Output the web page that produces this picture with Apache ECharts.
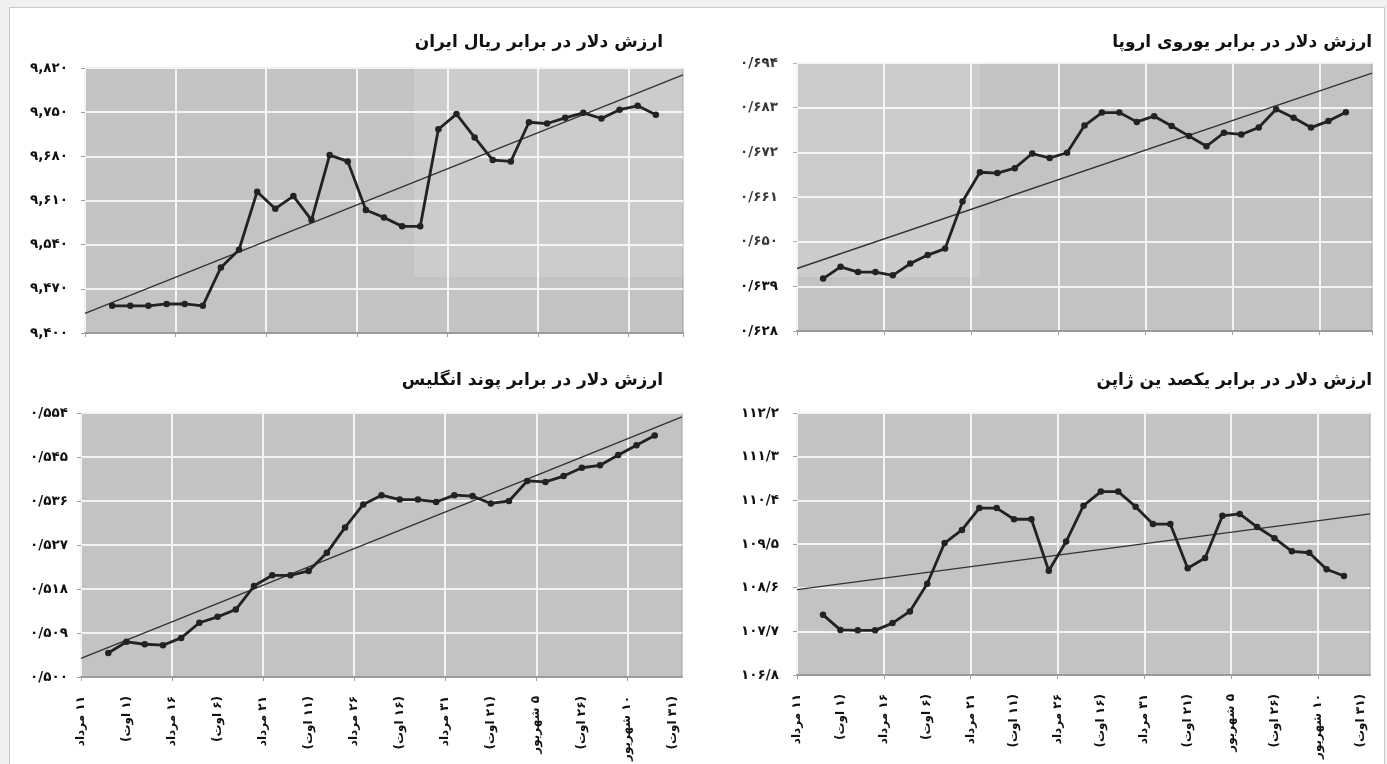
<!DOCTYPE html>
<html><head><meta charset="utf-8">
<script src="https://cdn.jsdelivr.net/npm/echarts@6/dist/echarts.min.js"></script>
<style>
html,body{margin:0;padding:0;background:#eff0f2;width:1387px;height:764px;overflow:hidden;}
#frame{position:absolute;left:9px;top:7px;width:1374px;height:800px;background:#fff;border:1px solid #c9cacc;}
#chart{position:absolute;left:0;top:0;width:1387px;height:764px;}
</style></head><body>
<div id="frame"></div>
<div id="chart"></div>
<script>
// ---- data ----
const daySlots = 33;                       // day slots on the x axis (11 Mordad .. )
const dayCats = Array.from({ length: daySlots }, (_, i) => String(i));
const xTickDays = [0, 5, 10, 15, 20, 25, 30];
const xLabelsFa = ['۱۱ مرداد', '۱۶ مرداد', '۲۱ مرداد', '۲۶ مرداد', '۳۱ مرداد', '۵ شهریور', '۱۰ شهریور'];
const xLabelsEn = ['(۱ اوت)', '(۶ اوت)', '(۱۱ اوت)', '(۱۶ اوت)', '(۲۱ اوت)', '(۲۶ اوت)', '(۳۱ اوت)'];

const titleIRR = 'ارزش دلار در برابر ریال ایران';
const titleEUR = 'ارزش دلار در برابر یوروی اروپا';
const titleGBP = 'ارزش دلار در برابر پوند انگلیس';
const titleJPY = 'ارزش دلار در برابر یکصد ین ژاپن';

const irr = [9443, 9443, 9443, 9446, 9446, 9443, 9504, 9532, 9624, 9597, 9617, 9579, 9682, 9672, 9595, 9583, 9569, 9569, 9723, 9747, 9710, 9674, 9672, 9734, 9732, 9741, 9749, 9740, 9754, 9760, 9746];
const eur = [0.6409, 0.6438, 0.6425, 0.6425, 0.6417, 0.6446, 0.6467, 0.6483, 0.6599, 0.6671, 0.6669, 0.6681, 0.6717, 0.6706, 0.6719, 0.6786, 0.6818, 0.6818, 0.6795, 0.6809, 0.6785, 0.6760, 0.6735, 0.6768, 0.6764, 0.6781, 0.6826, 0.6805, 0.6781, 0.6797, 0.6819];
const gbp = [0.5049, 0.5072, 0.5067, 0.5065, 0.5080, 0.5111, 0.5123, 0.5138, 0.5186, 0.5208, 0.5208, 0.5217, 0.5254, 0.5306, 0.5353, 0.5372, 0.5363, 0.5363, 0.5358, 0.5372, 0.5370, 0.5355, 0.5360, 0.5401, 0.5399, 0.5411, 0.5428, 0.5433, 0.5454, 0.5474, 0.5494];
const jpy = [108.04, 107.73, 107.72, 107.72, 107.87, 108.11, 108.68, 109.52, 109.79, 110.24, 110.24, 110.01, 110.01, 108.95, 109.55, 110.29, 110.58, 110.58, 110.27, 109.91, 109.91, 109.00, 109.21, 110.08, 110.12, 109.85, 109.62, 109.35, 109.32, 108.98, 108.84];

const trendIRR = [9431, 9809];
const trendEUR = [0.6434, 0.6915];
const trendGBP = [0.5038, 0.5532];
const trendJPY = [108.56, 110.12];

const yTicksIRR = ['۹,۴۰۰', '۹,۴۷۰', '۹,۵۴۰', '۹,۶۱۰', '۹,۶۸۰', '۹,۷۵۰', '۹,۸۲۰'];
const yTicksEUR = ['۰/۶۲۸', '۰/۶۳۹', '۰/۶۵۰', '۰/۶۶۱', '۰/۶۷۲', '۰/۶۸۳', '۰/۶۹۴'];
const yTicksGBP = ['۰/۵۰۰', '۰/۵۰۹', '۰/۵۱۸', '۰/۵۲۷', '۰/۵۳۶', '۰/۵۴۵', '۰/۵۵۴'];
const yTicksJPY = ['۱۰۶/۸', '۱۰۷/۷', '۱۰۸/۶', '۱۰۹/۵', '۱۱۰/۴', '۱۱۱/۳', '۱۱۲/۲'];

const yMinIRR = 9400, yStepIRR = 70;
const yMinEUR = 0.628, yStepEUR = 0.011;
const yMinGBP = 0.500, yStepGBP = 0.009;
const yMinJPY = 106.8, yStepJPY = 0.9;

// ---- layout / style ----
const FONT = '"DejaVu Sans", sans-serif';
const RLE = '\u202B', PDF = '\u202C';
const panels = [
  { title: titleIRR, values: irr, trend: trendIRR, ticks: yTicksIRR, min: yMinIRR, step: yStepIRR,
    grid: { left: 85, top: 68, width: 598, height: 265 }, titlePos: { right: 719, top: 29 }, yMargin: 17, showX: false },
  { title: titleEUR, values: eur, trend: trendEUR, ticks: yTicksEUR, min: yMinEUR, step: yStepEUR,
    grid: { left: 797, top: 63, width: 575, height: 268 }, titlePos: { right: 10, top: 29 }, yMargin: 19, showX: false },
  { title: titleGBP, values: gbp, trend: trendGBP, ticks: yTicksGBP, min: yMinGBP, step: yStepGBP,
    grid: { left: 81, top: 413, width: 601, height: 264 }, titlePos: { right: 719, top: 367 }, yMargin: 13, showX: true },
  { title: titleJPY, values: jpy, trend: trendJPY, ticks: yTicksJPY, min: yMinJPY, step: yStepJPY,
    grid: { left: 797, top: 413, width: 573, height: 262 }, titlePos: { right: 10, top: 367 }, yMargin: 18, showX: true }
];

const xLabelStyle = { rotate: 90, margin: 19, color: '#111', fontFamily: FONT, fontSize: 12, fontWeight: 'bold' };

const option = {
  animation: false, title: [], grid: [], xAxis: [], yAxis: [], series: [],
  graphic: [{
    type: 'rect', z: 1, silent: true,
    shape: { x: 414, y: 60, width: 566, height: 217 },
    style: { fill: 'rgba(255,255,255,0.16)' }
  }]
};

panels.forEach((p, k) => {
  const nTicks = p.ticks.length - 1;
  const yMax = p.min + nTicks * p.step;
  option.title.push({
    text: p.title, right: p.titlePos.right, top: p.titlePos.top,
    textStyle: { fontFamily: FONT, fontSize: 17, fontWeight: 'bold', color: '#111' }
  });
  option.grid.push(Object.assign({ show: true, backgroundColor: '#c3c3c3', borderColor: '#9d9d9d', borderWidth: 1 }, p.grid));
  // main (value) x axis: gridlines, ticks, Persian dates
  option.xAxis.push({
    type: 'value', gridIndex: k, position: 'bottom', min: 0, max: daySlots, interval: 5,
    axisLine: { show: true, onZero: false, lineStyle: { color: '#9a9a9a', width: 2 } },
    axisTick: { show: true, length: 4, lineStyle: { color: '#a0a0a0' } },
    splitLine: { show: true, showMaxLine: false, lineStyle: { color: '#f3f3f3', width: 2 } },
    axisLabel: Object.assign({}, xLabelStyle, {
      show: p.showX, showMinLabel: true, showMaxLabel: false,
      formatter: v => {
        const r = Math.round(v);
        const i = xTickDays.indexOf(r);
        if (i < 0 || Math.abs(v - r) > 1e-6) return '';
        return RLE + xLabelsFa[i] + PDF;
      }
    })
  });
  // companion category axis for the Gregorian dates
  option.xAxis.push({
    type: 'category', gridIndex: k, position: 'bottom', data: dayCats, boundaryGap: true,
    axisLine: { show: false }, axisTick: { show: false }, splitLine: { show: false },
    axisLabel: Object.assign({}, xLabelStyle, {
      show: p.showX,
      interval: (i) => i % 5 === 2,
      formatter: (val, idx) => {
        const j = (idx - 2) / 5;
        return xLabelsEn[j] ? RLE + xLabelsEn[j] + PDF : '';
      }
    })
  });
  option.yAxis.push({
    type: 'value', gridIndex: k, min: p.min, max: yMax, interval: p.step,
    axisLine: { show: false },
    axisTick: { show: true, length: 4, lineStyle: { color: '#a0a0a0' } },
    splitLine: { show: true, lineStyle: { color: '#f3f3f3', width: 2 } },
    axisLabel: {
      margin: p.yMargin, color: '#111', fontFamily: FONT, fontSize: 13.5, fontWeight: 'bold',
      formatter: v => { const i = Math.round((v - p.min) / p.step); return p.ticks[i] || ''; }
    }
  });
  option.series.push({
    type: 'line', xAxisIndex: 2 * k, yAxisIndex: k, z: 3,
    data: [[0, p.trend[0]], [daySlots, p.trend[1]]],
    showSymbol: false, symbol: 'none',
    lineStyle: { color: '#333', width: 1.4 }
  });
  option.series.push({
    type: 'line', xAxisIndex: 2 * k, yAxisIndex: k, z: 4,
    data: p.values.map((v, i) => [i + 1.5, v]),
    symbol: 'circle', symbolSize: 6.5,
    itemStyle: { color: '#222' },
    lineStyle: { color: '#222', width: 2.8 }
  });
});

const chart = echarts.init(document.getElementById('chart'), null, { renderer: 'canvas' });
chart.setOption(option);
</script>
</body></html>
